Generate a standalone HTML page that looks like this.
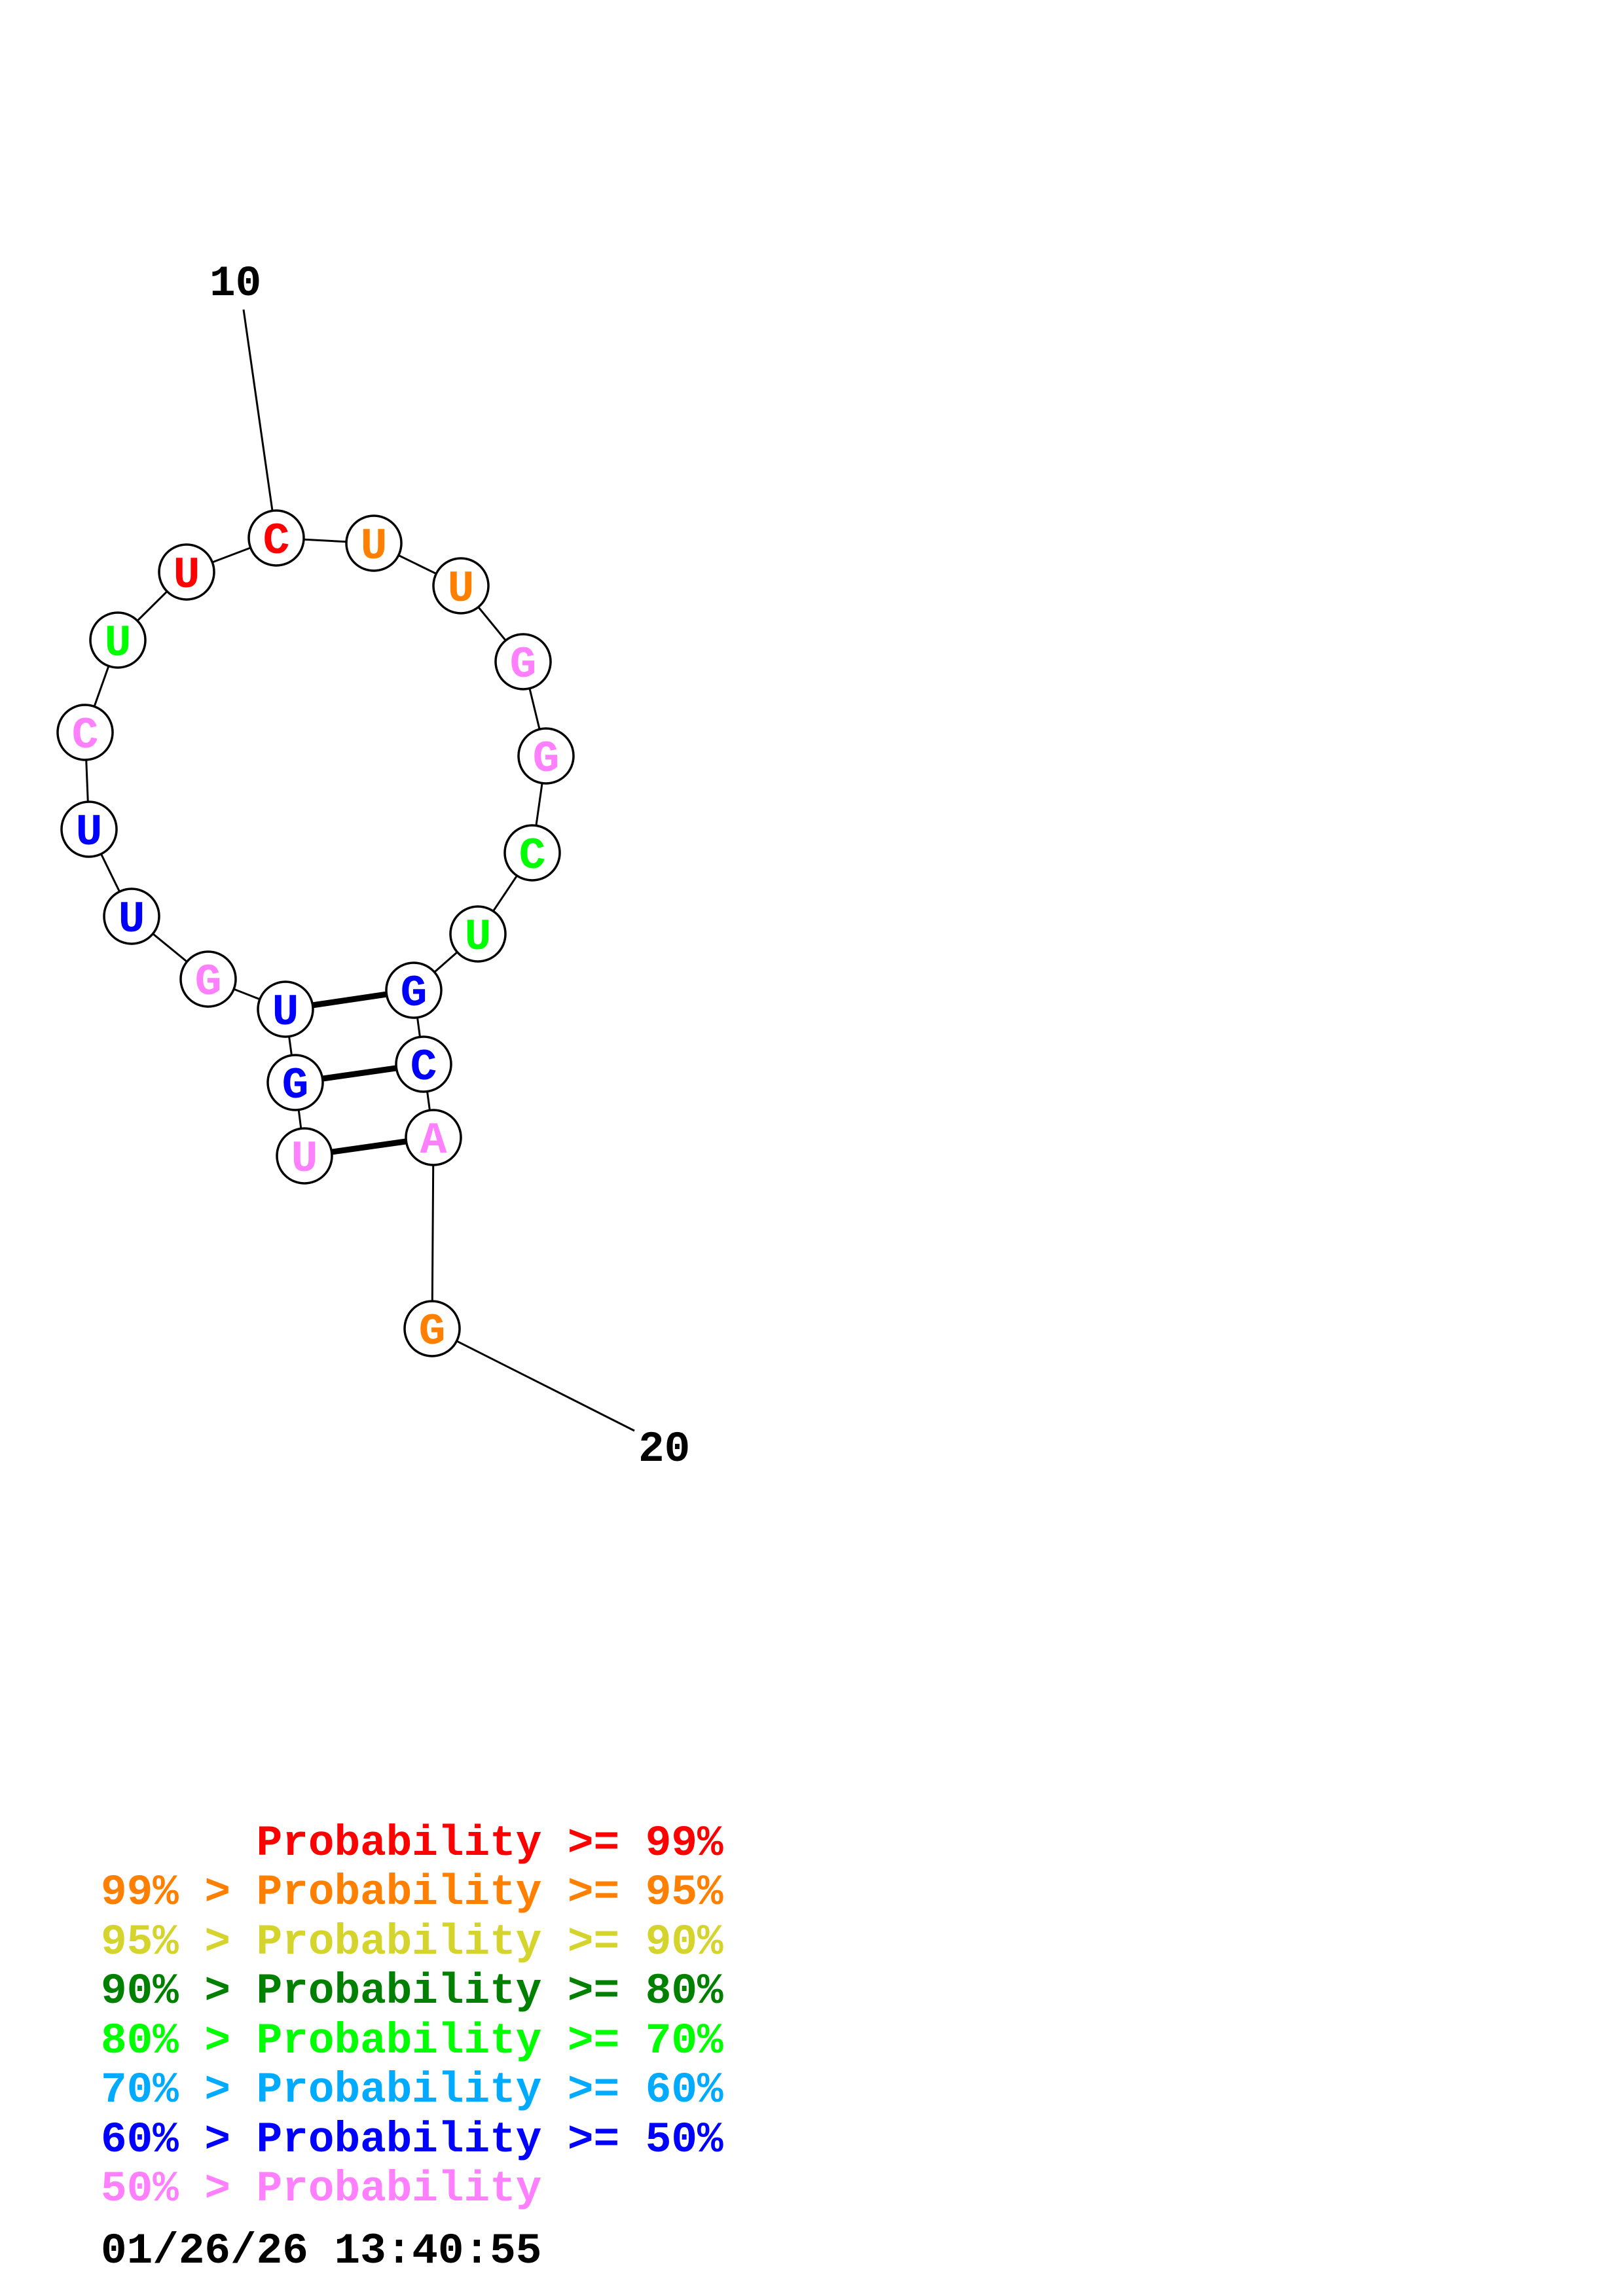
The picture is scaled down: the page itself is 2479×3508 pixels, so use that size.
<!DOCTYPE html>
<html><head><meta charset="utf-8"><style>
html,body{margin:0;padding:0;background:#fff;}
svg{display:block;}
text{font-family:"Liberation Mono",monospace;font-weight:bold;}
</style></head><body>
<svg width="2479" height="3508" viewBox="0 0 2479 3508" xmlns="http://www.w3.org/2000/svg">
<rect width="2479" height="3508" fill="#fff"/>
<g stroke="#000" stroke-width="3" fill="none">
<line x1="372" y1="473" x2="422" y2="822"/>
<line x1="660" y1="2030" x2="969" y2="2186"/>
<polyline points="422,822 571,830 704,895 799,1011 834,1155 813,1303 730,1427 632,1513 647,1626 662,1738 660,2030"/>
<polyline points="422,822 285,874 180,978 130,1119 136,1267 201,1400 318,1496 436,1542 451,1654 465,1766"/>
</g>
<g stroke="#000" stroke-width="9">
<line x1="436" y1="1542" x2="632" y2="1513"/>
<line x1="451" y1="1654" x2="647" y2="1626"/>
<line x1="465" y1="1766" x2="662" y2="1738"/>
</g>
<g stroke="#000" stroke-width="3.5" fill="#fff">
<circle cx="422" cy="822" r="42"/><circle cx="571" cy="830" r="42"/><circle cx="704" cy="895" r="42"/>
<circle cx="799" cy="1011" r="42"/><circle cx="834" cy="1155" r="42"/><circle cx="813" cy="1303" r="42"/>
<circle cx="730" cy="1427" r="42"/><circle cx="632" cy="1513" r="42"/><circle cx="647" cy="1626" r="42"/>
<circle cx="662" cy="1738" r="42"/><circle cx="465" cy="1766" r="42"/><circle cx="451" cy="1654" r="42"/>
<circle cx="436" cy="1542" r="42"/><circle cx="318" cy="1496" r="42"/><circle cx="201" cy="1400" r="42"/>
<circle cx="136" cy="1267" r="42"/><circle cx="130" cy="1119" r="42"/><circle cx="180" cy="978" r="42"/>
<circle cx="285" cy="874" r="42"/><circle cx="660" cy="2030" r="42"/>
</g>
<g font-size="68" text-anchor="middle">
<text x="422" y="845" fill="#ff0000">C</text>
<text x="571" y="853" fill="#ff8000">U</text>
<text x="704" y="918" fill="#ff8000">U</text>
<text x="799" y="1034" fill="#ff80ff">G</text>
<text x="834" y="1178" fill="#ff80ff">G</text>
<text x="813" y="1326" fill="#00ff00">C</text>
<text x="730" y="1450" fill="#00ff00">U</text>
<text x="632" y="1536" fill="#0000ff">G</text>
<text x="647" y="1649" fill="#0000ff">C</text>
<text x="662" y="1761" fill="#ff80ff">A</text>
<text x="465" y="1789" fill="#ff80ff">U</text>
<text x="451" y="1677" fill="#0000ff">G</text>
<text x="436" y="1565" fill="#0000ff">U</text>
<text x="318" y="1519" fill="#ff80ff">G</text>
<text x="201" y="1423" fill="#0000ff">U</text>
<text x="136" y="1290" fill="#0000ff">U</text>
<text x="130" y="1142" fill="#ff80ff">C</text>
<text x="180" y="1001" fill="#00ff00">U</text>
<text x="285" y="897" fill="#ff0000">U</text>
<text x="660" y="2053" fill="#ff8000">G</text>
</g>
<g font-size="66">
<text x="320" y="451" fill="#000">10</text>
<text x="975" y="2232" fill="#000">20</text>
<text x="154" y="2834" fill="#ff0000" xml:space="preserve">      Probability &gt;= 99%</text>
<text x="154" y="2909" fill="#ff8000" xml:space="preserve">99% &gt; Probability &gt;= 95%</text>
<text x="154" y="2985" fill="#d4d42c" xml:space="preserve">95% &gt; Probability &gt;= 90%</text>
<text x="154" y="3060" fill="#008000" xml:space="preserve">90% &gt; Probability &gt;= 80%</text>
<text x="154" y="3136" fill="#00ff00" xml:space="preserve">80% &gt; Probability &gt;= 70%</text>
<text x="154" y="3211" fill="#00aaff" xml:space="preserve">70% &gt; Probability &gt;= 60%</text>
<text x="154" y="3287" fill="#0000ff" xml:space="preserve">60% &gt; Probability &gt;= 50%</text>
<text x="154" y="3362" fill="#ff80ff" xml:space="preserve">50% &gt; Probability</text>
<text x="154" y="3457" fill="#000">01/26/26 13:40:55</text>
</g>
</svg>
</body></html>
